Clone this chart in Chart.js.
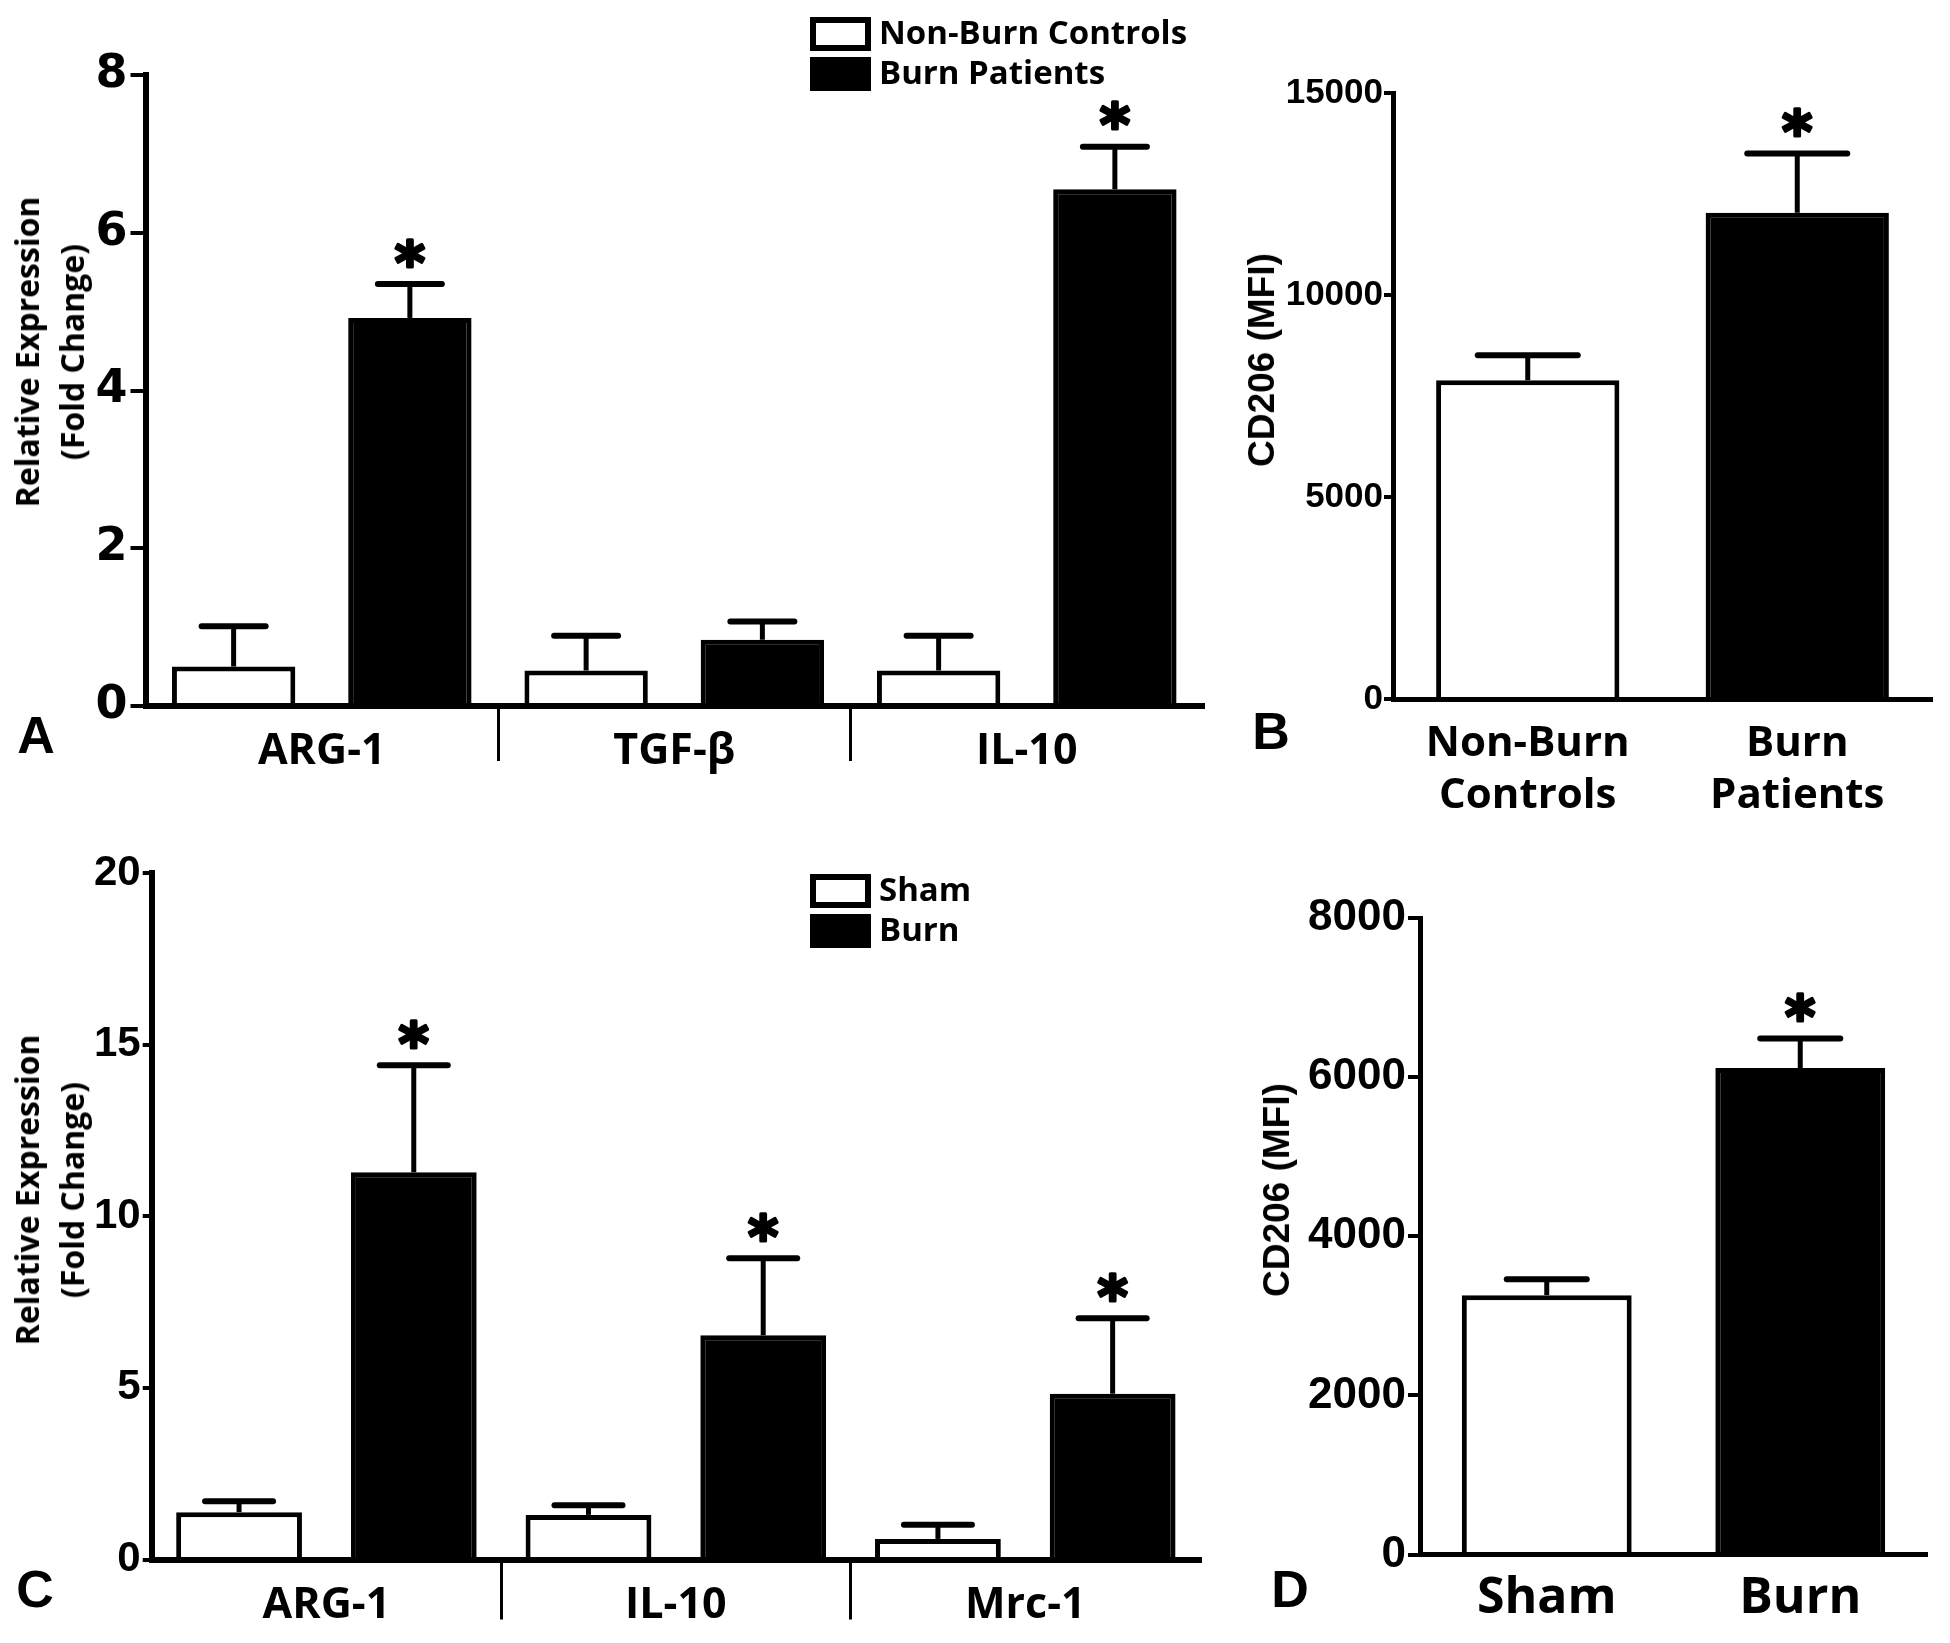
<!DOCTYPE html>
<html>
<head>
<meta charset="utf-8">
<script src="https://cdn.jsdelivr.net/npm/chart.js@4"></script>
<style>
html, body { margin: 0; padding: 0; background: #fff; }
body { width: 1950px; height: 1643px; position: relative; overflow: hidden; }
.pane { position: absolute; }
.ytitle { position: absolute; transform: translate(-50%, -50%) rotate(-90deg); white-space: nowrap; text-align: center; color: #000; }
.t2 { font: 700 32px/45px 'Open Sans', sans-serif; }
.t1 { font: 700 37px/40px 'Liberation Sans', Arial, sans-serif; }
.letter { position: absolute; transform: translate(-50%, -50%); font: 700 52px/1 'Liberation Sans', Arial, sans-serif; color: #000; }
</style>
</head>
<body>
<div class="pane" style="left:0;top:0;width:1230px;height:840px"><canvas id="cA" width="1230" height="840"></canvas></div>
<div class="pane" style="left:1240px;top:0;width:710px;height:840px"><canvas id="cB" width="710" height="840"></canvas></div>
<div class="pane" style="left:0;top:820px;width:1230px;height:823px"><canvas id="cC" width="1230" height="823"></canvas></div>
<div class="pane" style="left:1240px;top:820px;width:710px;height:823px"><canvas id="cD" width="710" height="823"></canvas></div>

<div class="ytitle t2" style="left:48.5px;top:352px">Relative Expression<br>(Fold Change)</div>
<div class="ytitle t1" style="left:1262px;top:360px">CD206 (MFI)</div>
<div class="ytitle t2" style="left:48.5px;top:1190px">Relative Expression<br>(Fold Change)</div>
<div class="ytitle t1" style="left:1277px;top:1190px">CD206 (MFI)</div>

<div class="letter" style="left:36px;top:735px">A</div>
<div class="letter" style="left:1271px;top:731px">B</div>
<div class="letter" style="left:35px;top:1589px">C</div>
<div class="letter" style="left:1290px;top:1589px">D</div>

<script>
// ---------- DATA ----------
const categoriesA = ['ARG-1', 'TGF-β', 'IL-10'];
const controlsA = [0.50, 0.45, 0.45];
const controlsErrA = [0.51, 0.44, 0.44];
const burnA = [4.92, 0.84, 6.55];
const burnErrA = [0.43, 0.23, 0.54];
const burnSigA = ['*', '', '*'];
const ticksA = [0, 2, 4, 6, 8];

const categoriesB = [['Non-Burn', 'Controls'], ['Burn', 'Patients']];
const valuesB = [7890, 12035];
const errorsB = [620, 1470];
const sigB = ['', '*'];
const ticksB = [0, 5000, 10000, 15000];

const categoriesC = ['ARG-1', 'IL-10', 'Mrc-1'];
const shamC = [1.38, 1.30, 0.60];
const shamErrC = [0.32, 0.28, 0.41];
const burnC = [11.28, 6.53, 4.83];
const burnErrC = [3.12, 2.25, 2.20];
const burnSigC = ['*', '*', '*'];
const ticksC = [0, 5, 10, 15, 20];

const categoriesD = ['Sham', 'Burn'];
const valuesD = [3260, 6115];
const errorsD = [200, 370];
const sigD = ['', '*'];
const ticksD = [0, 2000, 4000, 6000, 8000];

// ---------- PLUGINS ----------
function makeErrorPlugin(cfg) {
  return {
    id: 'errorBars',
    afterDatasetsDraw(chart) {
      const ctx = chart.ctx;
      const y = chart.scales.y;
      ctx.save();
      ctx.strokeStyle = '#000';
      ctx.fillStyle = '#000';
      cfg.errors.forEach((errs, di) => {
        const meta = chart.getDatasetMeta(di);
        const vals = chart.data.datasets[di].data;
        meta.data.forEach((bar, i) => {
          const base = y.getPixelForValue(vals[i]);
          const top = y.getPixelForValue(vals[i] + errs[i]);
          ctx.lineWidth = cfg.lineWidth;
          ctx.lineCap = 'butt';
          ctx.beginPath(); ctx.moveTo(bar.x, base); ctx.lineTo(bar.x, top); ctx.stroke();
          ctx.lineWidth = cfg.capThickness;
          ctx.lineCap = 'round';
          ctx.beginPath();
          ctx.moveTo(bar.x - cfg.capWidth / 2, top);
          ctx.lineTo(bar.x + cfg.capWidth / 2, top);
          ctx.stroke();
          const s = cfg.sig[di] && cfg.sig[di][i];
          if (s) {
            ctx.font = '700 ' + cfg.starSize + 'px "DejaVu Sans", sans-serif';
            ctx.textAlign = 'center';
            ctx.textBaseline = 'alphabetic';
            ctx.lineWidth = 3;
            ctx.lineJoin = 'round';
            const by = top - cfg.starOffset + cfg.starSize * 0.58;
            ctx.strokeText(s, bar.x, by);
            ctx.fillText(s, bar.x, by);
          }
        });
      });
      ctx.restore();
    }
  };
}

function makeLegendPlugin(cfg) {
  return {
    id: 'boxLegend',
    afterDraw(chart) {
      const ctx = chart.ctx;
      ctx.save();
      chart.data.datasets.forEach((ds, i) => {
        const bx = cfg.x, by = cfg.ys[i];
        const bw = cfg.boxW, bh = cfg.boxH, lw = cfg.lineWidth;
        ctx.fillStyle = ds.borderColor;
        ctx.fillRect(bx, by, bw, bh);
        if (ds.backgroundColor !== ds.borderColor) {
          ctx.fillStyle = ds.backgroundColor;
          ctx.fillRect(bx + lw, by + lw, bw - 2 * lw, bh - 2 * lw);
        }
        ctx.fillStyle = '#000';
        ctx.font = '700 ' + cfg.fontSize + 'px "Open Sans", sans-serif';
        ctx.textAlign = 'left';
        ctx.textBaseline = 'middle';
        ctx.fillText(ds.label, cfg.textX, by + bh / 2 + 1);
      });
      ctx.restore();
    }
  };
}

// ---------- HELPERS ----------
function yScale(tickList, fontFamily, fontSize, tickLen, pad, width, borderW) {
  const max = tickList[tickList.length - 1];
  return {
    type: 'linear', min: 0, max: max,
    afterBuildTicks: (axis) => { axis.ticks = tickList.map(v => ({ value: v })); },
    afterFit: (axis) => { axis.width = width; },
    grid: { display: true, drawOnChartArea: false, drawTicks: true, tickLength: tickLen, lineWidth: 4, color: '#000', tickColor: '#000' },
    border: { display: true, color: '#000', width: borderW, z: 1 },
    ticks: { color: '#000', padding: pad, font: { family: fontFamily, size: fontSize, weight: '700' }, callback: (v) => String(v) }
  };
}

function xScale(fontSize, lineH, pad, height, borderW, separators, sepLen) {
  return {
    type: 'category',
    offset: true,
    afterFit: (axis) => { axis.height = height; },
    grid: separators ? {
      display: true, offset: true, drawOnChartArea: false, drawTicks: true, tickLength: sepLen,
      lineWidth: 3, tickWidth: 3,
      color: (c) => (c.index >= 1 ? '#000' : 'rgba(0,0,0,0)'),
      tickColor: (c) => (c.index >= 1 ? '#000' : 'rgba(0,0,0,0)')
    } : { display: false },
    border: { display: true, color: '#000', width: borderW, z: 1 },
    ticks: { color: '#000', padding: pad, maxRotation: 0, minRotation: 0, autoSkip: false,
      font: { family: 'Open Sans', size: fontSize, weight: '700', lineHeight: lineH } }
  };
}

const common = {
  responsive: false, animation: false, devicePixelRatio: 1,
  events: [],
  plugins: { legend: { display: false }, tooltip: { enabled: false }, title: { display: false } }
};

// ---------- PANEL A ----------
new Chart(document.getElementById('cA'), {
  type: 'bar',
  data: {
    labels: categoriesA,
    datasets: [
      { label: 'Non-Burn Controls', data: controlsA, backgroundColor: '#ffffff', borderColor: '#000000', borderWidth: 5, categoryPercentage: 1.0, barPercentage: 0.70 },
      { label: 'Burn Patients', data: burnA, backgroundColor: '#000000', borderColor: '#000000', borderWidth: 5, categoryPercentage: 1.0, barPercentage: 0.70 }
    ]
  },
  options: Object.assign({}, common, {
    layout: { padding: { left: 5.5, top: 75, right: 27, bottom: 34 } },
    scales: {
      x: xScale(43, 1.2, -35, 100, 6, true, 55),
      y: yScale(ticksA, '"DejaVu Sans"', 46, 15, 3, 140, 6)
    }
  }),
  plugins: [
    makeErrorPlugin({ errors: [controlsErrA, burnErrA], sig: [[], burnSigA], lineWidth: 5, capThickness: 6, capWidth: 64, starSize: 58, starOffset: 35 }),
    makeLegendPlugin({ x: 810, ys: [17, 57], boxW: 61, boxH: 34, lineWidth: 6, textX: 879, fontSize: 33 })
  ]
});

// ---------- PANEL B ----------
new Chart(document.getElementById('cB'), {
  type: 'bar',
  data: {
    labels: categoriesB,
    datasets: [
      { label: 'CD206', data: valuesB, backgroundColor: ['#ffffff', '#000000'], borderColor: '#000000', borderWidth: 5, categoryPercentage: 1.0, barPercentage: 0.68 }
    ]
  },
  options: Object.assign({}, common, {
    layout: { padding: { left: 33, top: 93, right: 18, bottom: 31 } },
    scales: {
      x: xScale(42, 1.24, 11, 110, 5, false, 0),
      y: yScale(ticksB, '"Liberation Sans"', 35, 9, 1, 120, 5)
    }
  }),
  plugins: [
    makeErrorPlugin({ errors: [errorsB], sig: [sigB], lineWidth: 5, capThickness: 6, capWidth: 100, starSize: 58, starOffset: 35 })
  ]
});

// ---------- PANEL C ----------
new Chart(document.getElementById('cC'), {
  type: 'bar',
  data: {
    labels: categoriesC,
    datasets: [
      { label: 'Sham', data: shamC, backgroundColor: '#ffffff', borderColor: '#000000', borderWidth: 5, categoryPercentage: 1.0, barPercentage: 0.72 },
      { label: 'Burn', data: burnC, backgroundColor: '#000000', borderColor: '#000000', borderWidth: 5, categoryPercentage: 1.0, barPercentage: 0.72 }
    ]
  },
  options: Object.assign({}, common, {
    layout: { padding: { left: 11.7, top: 53, right: 30, bottom: 3.5 } },
    scales: {
      x: xScale(43, 1.2, -39.5, 80, 6, true, 60),
      y: yScale(ticksC, '"Liberation Sans"', 42, 9, 2, 140, 6)
    }
  }),
  plugins: [
    makeErrorPlugin({ errors: [shamErrC, burnErrC], sig: [[], burnSigC], lineWidth: 5, capThickness: 6, capWidth: 68, starSize: 58, starOffset: 35 }),
    makeLegendPlugin({ x: 810, ys: [54, 94], boxW: 61, boxH: 34, lineWidth: 6, textX: 879, fontSize: 33 })
  ]
});

// ---------- PANEL D ----------
new Chart(document.getElementById('cD'), {
  type: 'bar',
  data: {
    labels: categoriesD,
    datasets: [
      { label: 'CD206', data: valuesD, backgroundColor: ['#ffffff', '#000000'], borderColor: '#000000', borderWidth: 5, categoryPercentage: 1.0, barPercentage: 0.67 }
    ]
  },
  options: Object.assign({}, common, {
    layout: { padding: { left: 20, top: 98, right: 23, bottom: 8.5 } },
    scales: {
      x: xScale(50, 1.2, 6, 80, 5, false, 0),
      y: yScale(ticksD, '"Liberation Sans"', 44, 12, 2, 160, 5)
    }
  }),
  plugins: [
    makeErrorPlugin({ errors: [errorsD], sig: [sigD], lineWidth: 5, capThickness: 6, capWidth: 80, starSize: 58, starOffset: 35 })
  ]
});
</script>
</body>
</html>
